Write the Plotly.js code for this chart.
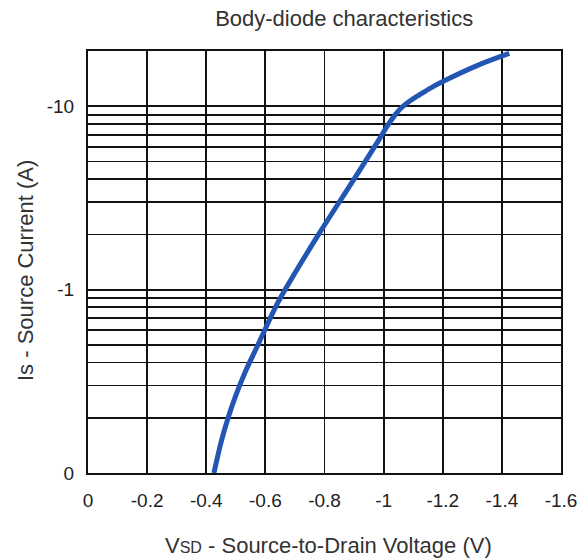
<!DOCTYPE html>
<html>
<head>
<meta charset="utf-8">
<script src="https://cdn.plot.ly/plotly-3.0.1.min.js"></script>
<style>html,body{margin:0;padding:0;background:#fff;}#chart{width:578px;height:558px;}</style>
</head>
<body>
<div id="chart"></div>
<script>
// Forward voltage V_SD (V) and source current I_S (A, magnitude)
const vsd = [-0.426, -0.450, -0.474, -0.500, -0.530, -0.575, -0.634, -0.667, -0.780, -0.900, -0.985, -1.010, -1.035, -1.060, -1.090, -1.120, -1.160, -1.207, -1.318, -1.425];
const isrc = [0.1, 0.147, 0.2, 0.265, 0.35, 0.5, 0.8, 1.0, 2.0, 4.0, 6.6, 7.7, 8.8, 9.8, 10.7, 11.5, 12.6, 13.8, 16.7, 19.4];

const xTickVals = [0, -0.2, -0.4, -0.6, -0.8, -1, -1.2, -1.4, -1.6];
const xTickText = ['0', '-0.2', '-0.4', '-0.6', '-0.8', '-1', '-1.2', '-1.4', '-1.6'];
const yTickVals = [0.1, 0.2, 0.3, 0.4, 0.5, 0.6, 0.7, 0.8, 0.9, 1, 2, 3, 4, 5, 6, 7, 8, 9, 10];
const yTickText = ['0', '', '', '', '', '', '', '', '', '-1', '', '', '', '', '', '', '', '', '-10'];

const fam = 'Liberation Sans, Arial, sans-serif';
const L = 88, R = 17, T = 51, B = 85, W = 578, H = 558;
const pw = W - L - R, ph = H - T - B;

Plotly.newPlot('chart', [{
  x: vsd, y: isrc, type: 'scatter', mode: 'lines',
  line: {color: '#2355b3', width: 5, shape: 'spline', smoothing: 1},
  hoverinfo: 'skip'
}], {
  width: W, height: H,
  margin: {l: L, r: R, t: T, b: B},
  paper_bgcolor: '#fff', plot_bgcolor: '#fff',
  showlegend: false,
  font: {family: fam, color: '#222'},
  title: {text: 'Body-diode characteristics', font: {family: fam, size: 22, color: '#333'}, x: 313 / W, xanchor: 'center', xref: 'paper', y: 1 - 18 / H, yanchor: 'middle'},
  xaxis: {
    range: [0, -1.6], tickvals: xTickVals, ticktext: xTickText,
    showgrid: true, gridcolor: '#111', gridwidth: 1.8,
    showline: true, linecolor: '#111', linewidth: 2, mirror: true,
    zeroline: false, ticks: '', ticklabelstandoff: 9, ticklabeloverflow: 'allow',
    tickfont: {family: fam, size: 19, color: '#222'}
  },
  yaxis: {
    type: 'log', range: [-1, Math.log10(20)], tickvals: yTickVals, ticktext: yTickText,
    showgrid: true, gridcolor: '#111', gridwidth: 1.8,
    showline: true, linecolor: '#111', linewidth: 2, mirror: true,
    zeroline: false, ticks: '', ticklabelstandoff: 8, ticklabeloverflow: 'allow',
    tickfont: {family: fam, size: 19, color: '#222'}
  },
  annotations: [
    {text: 'V<span style="font-size:16px">SD</span> - Source-to-Drain Voltage (V)', xref: 'paper', yref: 'paper',
     x: (328 - L) / pw, y: -(545 - (H - B)) / ph, xanchor: 'center', yanchor: 'middle', showarrow: false,
     font: {family: fam, size: 22, color: '#333'}},
    {text: 'Is - Source Current (A)', xref: 'paper', yref: 'paper', textangle: -90,
     x: (25 - L) / pw, y: ((H - B) - 271) / ph, xanchor: 'center', yanchor: 'middle', showarrow: false,
     font: {family: fam, size: 22, color: '#333'}}
  ]
}, {displayModeBar: false, staticPlot: true});
</script>
</body>
</html>
